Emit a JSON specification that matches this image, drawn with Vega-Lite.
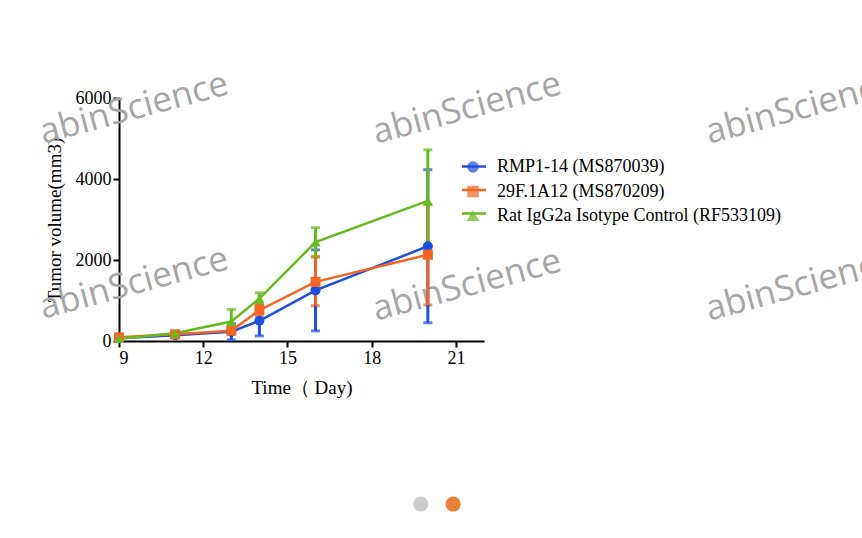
{
  "$schema": "https://vega.github.io/schema/vega-lite/v6.json",
  "autosize": {"type": "none"},
  "width": 365,
  "height": 243,
  "padding": {"left": 119, "top": 98, "right": 378, "bottom": 197},
  "background": "white",
  "config": {
    "view": {"stroke": null},
    "font": "Liberation Serif",
    "axis": {
      "domainColor": "black", "domainWidth": 2,
      "tickColor": "black", "tickWidth": 2, "tickSize": 6,
      "labelColor": "black", "labelFont": "Liberation Serif", "labelFontSize": 18,
      "titleColor": "black", "titleFont": "Liberation Serif", "titleFontSize": 19, "titleFontWeight": "normal",
      "grid": false
    }
  },
  "datasets": {
    "tumor": [
      {"series": "RMP1-14 (MS870039)", "day": 9, "mean": 65, "lo": 40, "hi": 90},
      {"series": "RMP1-14 (MS870039)", "day": 11, "mean": 145, "lo": 120, "hi": 170},
      {"series": "RMP1-14 (MS870039)", "day": 13, "mean": 230, "lo": 25, "hi": 430},
      {"series": "RMP1-14 (MS870039)", "day": 14, "mean": 500, "lo": 125, "hi": 870},
      {"series": "RMP1-14 (MS870039)", "day": 16, "mean": 1250, "lo": 250, "hi": 2250},
      {"series": "RMP1-14 (MS870039)", "day": 20, "mean": 2340, "lo": 450, "hi": 4230},
      {"series": "29F.1A12 (MS870209)", "day": 9, "mean": 90, "lo": 60, "hi": 120},
      {"series": "29F.1A12 (MS870209)", "day": 11, "mean": 165, "lo": 130, "hi": 200},
      {"series": "29F.1A12 (MS870209)", "day": 13, "mean": 255, "lo": 200, "hi": 310},
      {"series": "29F.1A12 (MS870209)", "day": 14, "mean": 760, "lo": 620, "hi": 900},
      {"series": "29F.1A12 (MS870209)", "day": 16, "mean": 1460, "lo": 870, "hi": 2090},
      {"series": "29F.1A12 (MS870209)", "day": 20, "mean": 2130, "lo": 890, "hi": 3370},
      {"series": "Rat IgG2a Isotype Control (RF533109)", "day": 9, "mean": 55, "lo": 30, "hi": 80},
      {"series": "Rat IgG2a Isotype Control (RF533109)", "day": 11, "mean": 190, "lo": 150, "hi": 230},
      {"series": "Rat IgG2a Isotype Control (RF533109)", "day": 13, "mean": 480, "lo": 180, "hi": 780},
      {"series": "Rat IgG2a Isotype Control (RF533109)", "day": 14, "mean": 1045, "lo": 900, "hi": 1190},
      {"series": "Rat IgG2a Isotype Control (RF533109)", "day": 16, "mean": 2440, "lo": 2070, "hi": 2800},
      {"series": "Rat IgG2a Isotype Control (RF533109)", "day": 20, "mean": 3460, "lo": 2200, "hi": 4720}
    ],
    "marks": [
      {"label": "abinScience", "day": 9.53, "vol": 5750},
      {"label": "abinScience", "day": 21.39, "vol": 5750},
      {"label": "abinScience", "day": 33.25, "vol": 5750},
      {"label": "abinScience", "day": 9.53, "vol": 1430},
      {"label": "abinScience", "day": 21.39, "vol": 1380},
      {"label": "abinScience", "day": 33.25, "vol": 1380}
    ],
    "dots": [
      {"page": 1, "day": 19.75, "vol": -4025},
      {"page": 2, "day": 20.9, "vol": -4025}
    ]
  },
  "layer": [
    {
      "data": {"name": "marks"},
      "mark": {"type": "text", "font": "Open Sans", "fontSize": 35, "angle": -15, "color": "#a6a6a6", "align": "center", "baseline": "middle", "clip": false},
      "encoding": {
        "x": {"field": "day", "type": "quantitative", "title": "Time（ Day)"},
        "y": {"field": "vol", "type": "quantitative", "title": "Tumor volume(mm3)"},
        "text": {"field": "label"}
      }
    },
    {
      "data": {"name": "dots"},
      "transform": [{"filter": "datum.page == 1"}],
      "mark": {"type": "circle", "size": 230, "color": "#cccccc", "opacity": 1},
      "encoding": {
        "x": {"field": "day", "type": "quantitative", "title": "Time（ Day)"},
        "y": {"field": "vol", "type": "quantitative", "title": "Tumor volume(mm3)"}
      }
    },
    {
      "data": {"name": "dots"},
      "transform": [{"filter": "datum.page == 2"}],
      "mark": {"type": "circle", "size": 230, "color": "#e8803a", "opacity": 1},
      "encoding": {
        "x": {"field": "day", "type": "quantitative", "title": "Time（ Day)"},
        "y": {"field": "vol", "type": "quantitative", "title": "Tumor volume(mm3)"}
      }
    },
    {
      "data": {"name": "tumor"},
      "mark": {"type": "errorbar", "ticks": {"size": 9, "thickness": 3}, "thickness": 3},
      "encoding": {
        "x": {"field": "day", "type": "quantitative", "title": "Time（ Day)"},
        "y": {"field": "lo", "type": "quantitative", "title": "Tumor volume(mm3)"},
        "y2": {"field": "hi"},
        "color": {"field": "series", "type": "nominal"}
      }
    },
    {
      "data": {"name": "tumor"},
      "mark": {"type": "line", "strokeWidth": 2.5},
      "encoding": {
        "x": {"field": "day", "type": "quantitative", "title": "Time（ Day)"},
        "y": {"field": "mean", "type": "quantitative", "title": "Tumor volume(mm3)"},
        "stroke": {
          "field": "series", "type": "nominal",
          "scale": {"domain": ["RMP1-14 (MS870039)", "29F.1A12 (MS870209)", "Rat IgG2a Isotype Control (RF533109)", "RMP1-14 (MS870039)"], "range": ["#1f4fe0", "#f26522", "#66bb1e", "#1f4fe0"]},
          "legend": {
            "title": null,
            "orient": "none",
            "legendX": 341.5,
            "legendY": 55,
            "symbolType": "stroke",
            "symbolSize": 576,
            "symbolStrokeWidth": 2.5,
            "symbolFillColor": "transparent",
            "symbolOpacity": 1,
            "labelOffset": 0,
            "labelFontSize": 18,
            "labelExpr": "''",
            "labelLimit": 400,
            "rowPadding": 0.5
          }
        }
      }
    },
    {
      "data": {"name": "tumor"},
      "mark": {"type": "point", "filled": true, "opacity": 1, "size": 100},
      "encoding": {
        "x": {
          "field": "day", "type": "quantitative", "title": "Time（ Day)",
          "scale": {"domain": [9, 22], "nice": false, "zero": false},
          "axis": {"values": [9, 12, 15, 18, 21], "titlePadding": 11}
        },
        "y": {
          "field": "mean", "type": "quantitative", "title": "Tumor volume(mm3)",
          "scale": {"domain": [0, 6000], "nice": false},
          "axis": {"values": [0, 2000, 4000, 6000], "format": "d", "titlePadding": 11}
        },
        "shape": {
          "field": "series", "type": "nominal",
          "scale": {"domain": ["RMP1-14 (MS870039)", "29F.1A12 (MS870209)", "Rat IgG2a Isotype Control (RF533109)"], "range": ["circle", "square", "triangle-up"]},
          "legend": null
        },
        "color": {
          "field": "series", "type": "nominal",
          "scale": {"domain": ["RMP1-14 (MS870039)", "29F.1A12 (MS870209)", "Rat IgG2a Isotype Control (RF533109)"], "range": ["#1f4fe0", "#f26522", "#66bb1e"]},
          "legend": {
            "title": null,
            "orient": "none",
            "legendX": 345,
            "legendY": 60,
            "symbolSize": 100,
            "symbolOpacity": 1,
            "labelOffset": 15,
            "labelFont": "Liberation Serif",
            "labelFontSize": 18,
            "labelColor": "black",
            "labelLimit": 400,
            "rowPadding": 6.5
          }
        }
      }
    }
  ]
}
